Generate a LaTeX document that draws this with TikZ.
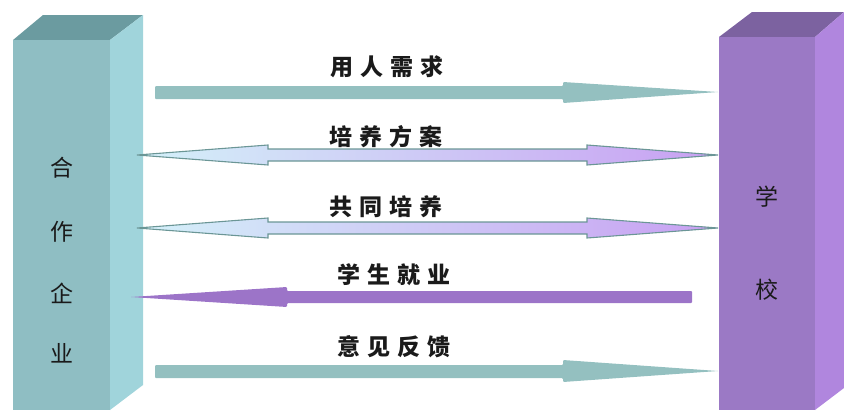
\documentclass[tikz,border=0pt]{standalone}
\usepackage{fontspec}
\newfontfamily\cjk{Noto Sans CJK SC}
\definecolor{lfront}{HTML}{8FBEC3}
\definecolor{lside}{HTML}{A0D4DB}
\definecolor{ltop}{HTML}{6B9BA0}
\definecolor{rfront}{HTML}{9B79C5}
\definecolor{rside}{HTML}{B086DE}
\definecolor{rtop}{HTML}{7C62A0}
\definecolor{tealarrow}{HTML}{94C0C0}
\definecolor{purplearrow}{HTML}{9C74C8}
\definecolor{outlinec}{HTML}{6B9696}
\definecolor{cyanlight}{HTML}{D4F1F9}
\definecolor{lavender}{HTML}{C8A0F2}
\definecolor{txt}{HTML}{1A1A1A}
\tikzset{
  pillartext/.style={font=\cjk\fontsize{23pt}{23pt}\selectfont, text=txt, inner sep=0pt},
  lbl/.style={font=\cjk\bfseries\fontsize{23pt}{23pt}\selectfont, text=txt, inner sep=0pt},
  solidarrow/.style={fill=#1, draw=none, rounded corners=1pt},
  dblarrow/.style={draw=outlinec, line width=1.1pt, left color=cyanlight, right color=lavender, line join=miter},
  front/.style={fill=#1, draw=none, inner sep=0pt, anchor=north west}
}
\newcommand{\chsp}{\hspace{7pt}}
\begin{document}
\begin{tikzpicture}[x=1pt,y=-1pt]
\useasboundingbox (0,0) rectangle (844,410);
% left pillar
\fill[ltop] (13,40) -- (43,15) -- (143,15) -- (110,40) -- cycle;
\fill[lside] (110,40) -- (143,15) -- (143,385) -- (110,410) -- cycle;
\node[front=lfront, minimum width=97pt, minimum height=370pt] (ent) at (13,40) {};
\node[pillartext] (e1) at (62,168) {合};
\node[pillartext] (e2) at (62,232) {作};
\node[pillartext] (e3) at (62,293) {企};
\node[pillartext] (e4) at (62,353) {业};
% right pillar
\fill[rtop] (719,37) -- (752,12) -- (844,12) -- (815,37) -- cycle;
\fill[rside] (815,37) -- (844,12) -- (844,388) -- (815,410) -- cycle;
\node[front=rfront, minimum width=96pt, minimum height=373pt] (sch) at (719,37) {};
\node[pillartext] (s1) at (767,197) {学};
\node[pillartext] (s2) at (767,290) {校};
% arrow 1
\coordinate (a1e) at (718,92);
\fill[solidarrow=tealarrow] (155,86) -- (563,86) -- (563,82) [sharp corners] -- (a1e) [rounded corners=1pt] -- (563,103) -- (563,99) -- (155,99) -- cycle;
\node[lbl] (l1) at (387,67) {用\chsp 人\chsp 需\chsp 求};
% arrow 2
\draw[dblarrow] (137,155) -- (268,145) -- (268,149) -- (587,149) -- (587,145) -- (718,155) -- (587,165) -- (587,161) -- (268,161) -- (268,165) -- cycle;
\node[lbl] (l2) at (386,137) {培\chsp 养\chsp 方\chsp 案};
% arrow 3
\draw[dblarrow] (137,228) -- (268,218) -- (268,222) -- (587,222) -- (587,218) -- (718,228) -- (587,238) -- (587,234) -- (268,234) -- (268,238) -- cycle;
\node[lbl] (l3) at (386,207) {共\chsp 同\chsp 培\chsp 养};
% arrow 4
\fill[solidarrow=purplearrow] (692,291) -- (287,291) -- (287,287) [sharp corners] -- (131,297) [rounded corners=1pt] -- (287,307) -- (287,303) -- (692,303) -- cycle;
\node[lbl] (l4) at (394,275) {学\chsp 生\chsp 就\chsp 业};
% arrow 5
\fill[solidarrow=tealarrow] (155,365) -- (563,365) -- (563,360) [sharp corners] -- (718,371) [rounded corners=1pt] -- (563,382) -- (563,378) -- (155,378) -- cycle;
\node[lbl] (l5) at (394,347) {意\chsp 见\chsp 反\chsp 馈};
\end{tikzpicture}
\end{document}
